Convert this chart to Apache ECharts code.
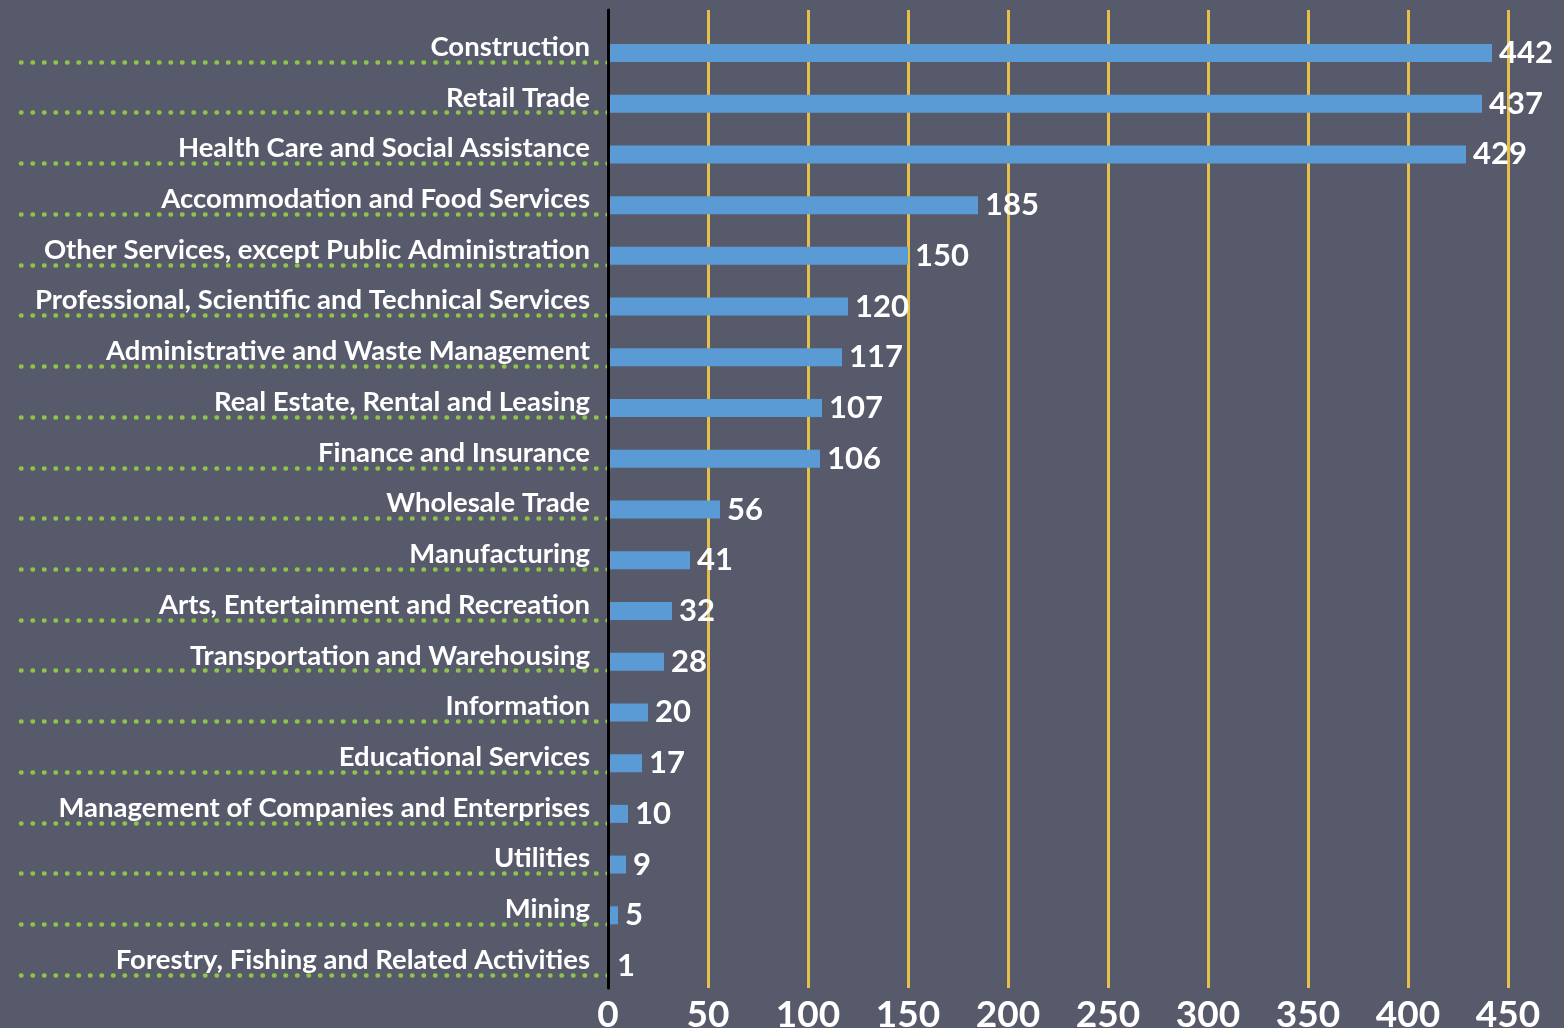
<!DOCTYPE html>
<html>
<head>
<meta charset="utf-8">
<script src="https://cdn.jsdelivr.net/npm/echarts@6/dist/echarts.min.js"></script>
<style>
	html, body { margin: 0; padding: 0; background: #575a6b; }
	#chart { width: 1564px; height: 1028px; }
</style>
</head>
<body>
<div id="chart"></div>
<script>
const categories = [
	"Construction",
	"Retail Trade",
	"Health Care and Social Assistance",
	"Accommodation and Food Services",
	"Other Services, except Public Administration",
	"Professional, Scientific and Technical Services",
	"Administrative and Waste Management",
	"Real Estate, Rental and Leasing",
	"Finance and Insurance",
	"Wholesale Trade",
	"Manufacturing",
	"Arts, Entertainment and Recreation",
	"Transportation and Warehousing",
	"Information",
	"Educational Services",
	"Management of Companies and Enterprises",
	"Utilities",
	"Mining",
	"Forestry, Fishing and Related Activities"
];
const values = [442, 437, 429, 185, 150, 120, 117, 107, 106, 56, 41, 32, 28, 20, 17, 10, 9, 5, 1];
const axisMin = 0;
const axisMax = 450;
const axisStep = 50;

const font = "Lato, 'Open Sans', sans-serif";
const chart = echarts.init(document.getElementById("chart"));

const option = {
	backgroundColor: "#575a6b",
	animation: false,
	grid: [
		{left: 608, right: 56, top: 10, bottom: 40, outerBoundsMode: "none"},
		{left: 608, right: 56, top: 27.6, bottom: 36.6, outerBoundsMode: "none"},
		{left: 608, right: 56, top: 36.6, bottom: 27.6, outerBoundsMode: "none"}
	],
	xAxis: [
		{
			gridIndex: 0,
			type: "value",
			min: axisMin,
			max: axisMax,
			interval: axisStep,
			axisLine: {show: false},
			axisTick: {show: false},
			axisLabel: {
				color: "#ffffff",
				fontFamily: font,
				fontWeight: "bold",
				fontSize: 37,
				margin: 9
			},
			splitLine: {
				show: true,
				showMinLine: false,
				lineStyle: {color: "#e6bf4b", width: 3}
			}
		},
		{gridIndex: 1, type: "value", min: axisMin, max: axisMax, show: false},
		{gridIndex: 2, type: "value", min: axisMin, max: axisMax, show: false}
	],
	yAxis: [
		{
			gridIndex: 0,
			type: "value",
			z: 5,
			axisLine: {show: true, lineStyle: {color: "#000000", width: 3}},
			axisTick: {show: false},
			axisLabel: {show: false},
			splitLine: {show: false}
		},
		{
			gridIndex: 1,
			type: "category",
			inverse: true,
			data: categories,
			axisLine: {show: false},
			axisTick: {show: false},
			axisLabel: {
				color: "#ffffff",
				fontFamily: font,
				fontWeight: "bold",
				fontSize: 27.5,
				margin: 18,
				verticalAlign: "bottom",
				lineHeight: 12
			}
		},
		{
			gridIndex: 2,
			type: "category",
			inverse: true,
			data: categories,
			axisLine: {show: false},
			axisLabel: {show: false},
			axisTick: {
				show: true,
				alignWithLabel: true,
				length: 593,
				lineStyle: {color: "#8dc449", width: 4.5, type: [0.5, 11], cap: "round"}
			}
		}
	],
	series: [{
		type: "bar",
		xAxisIndex: 1,
		yAxisIndex: 1,
		data: values,
		barWidth: 18,
		itemStyle: {color: "#5b9bd5"},
		label: {
			show: true,
			position: "right",
			distance: 7,
			color: "#ffffff",
			fontFamily: font,
			fontWeight: "bold",
			fontSize: 31
		}
	}]
};

chart.setOption(option);
</script>
</body>
</html>
